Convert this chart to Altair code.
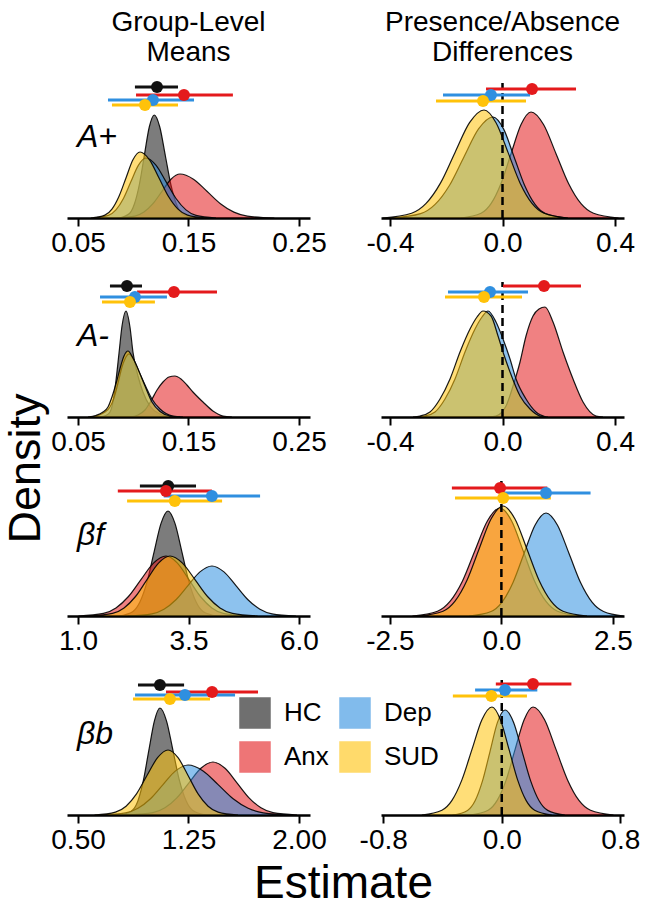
import altair as alt
import pandas as pd

FONT = "Liberation Sans"

GROUPS = ["HC", "Anx", "Dep", "SUD"]            # legend order (2 columns, filled column-wise)
GROUP_COLORS = ["#111111", "#e41a1c", "#2f8fe0", "#ffc20a"]
DRAW_ORDER = ["HC", "Anx", "Dep", "SUD"]
MEAN_INT_GROUPS = ["HC", "Anx", "Dep", "SUD"]
DIFF_INT_GROUPS = ["Anx", "Dep", "SUD"]

COL_TITLES = [["Group-Level", "Means"], ["Presence/Absence", "Differences"]]
ROW_LABELS = ["A+", "A-", "βf", "βb"]

MEAN_DOMAINS = [[0.04, 0.26], [0.04, 0.26], [0.75, 6.25], [0.425, 2.075]]
MEAN_TICKS = [[0.05, 0.15, 0.25], [0.05, 0.15, 0.25], [1.0, 3.5, 6.0], [0.5, 1.25, 2.0]]
MEAN_FMT = [".2f", ".2f", ".1f", ".2f"]
DIFF_DOMAINS = [[-0.432, 0.432], [-0.432, 0.432], [-2.7, 2.75], [-0.815, 0.825]]
DIFF_TICKS = [[-0.4, 0.0, 0.4], [-0.4, 0.0, 0.4], [-2.5, 0.0, 2.5], [-0.8, 0.0, 0.8]]
DIFF_FMT = ".1f"
DENSITY_MAX = 145
ZERO_LINE_TOP = 135

# ---------------- A+ : group-level means ----------------
ap_m_hc_x = [0.0875, 0.0965, 0.101, 0.1055, 0.110, 0.1145, 0.119, 0.124, 0.129, 0.134, 0.139, 0.144, 0.154]
ap_m_hc_d = [0, 4.5, 14, 33.5, 62.5, 91, 103, 91, 62.5, 33.5, 14, 4.5, 0]
ap_m_anx_x = [0.0853, 0.1015, 0.1097, 0.1178, 0.126, 0.1341, 0.1423, 0.1545, 0.1667, 0.1789, 0.1911, 0.2033, 0.2277]
ap_m_anx_d = [0, 1.9, 5.9, 14.3, 26.7, 38.8, 44, 38.8, 26.7, 14.3, 5.9, 1.9, 0]
ap_m_dep_x = [0.0639, 0.0775, 0.0843, 0.0911, 0.0979, 0.1047, 0.1115, 0.1205, 0.1296, 0.1387, 0.1477, 0.1568, 0.1749]
ap_m_dep_d = [0, 2.6, 8.1, 19.5, 36.4, 52.9, 60, 52.9, 36.4, 19.5, 8.1, 2.6, 0]
ap_m_sud_x = [0.0616, 0.0743, 0.0807, 0.087, 0.0934, 0.0997, 0.1061, 0.1147, 0.1233, 0.1319, 0.1405, 0.1491, 0.1663]
ap_m_sud_d = [0, 2.9, 8.9, 21.5, 40, 58.2, 66, 58.2, 40, 21.5, 8.9, 2.9, 0]
ap_m_lo = [0.1015, 0.1025, 0.0771, 0.0807]
ap_m_hi = [0.1405, 0.1902, 0.155, 0.1405]
ap_m_pt = [0.1215, 0.1459, 0.1178, 0.1106]
ap_m_h = [131, 123, 118, 113]

# ---------------- A+ : presence/absence differences ----------------
ap_d_anx_x = [-0.1475, -0.0764, -0.0408, -0.0053, 0.0303, 0.0659, 0.1014, 0.1459, 0.1903, 0.2348, 0.2792, 0.3237, 0.4126]
ap_d_anx_d = [0, 4.7, 14.3, 34.5, 64.3, 93.5, 106, 93.5, 64.3, 34.5, 14.3, 4.7, 0]
ap_d_dep_x = [-0.3942, -0.2912, -0.2397, -0.1882, -0.1367, -0.0852, -0.0337, 0.0037, 0.041, 0.0784, 0.1157, 0.1531, 0.2278]
ap_d_dep_d = [0, 4.4, 13.6, 32.8, 61.3, 89.1, 101, 89.1, 61.3, 32.8, 13.6, 4.4, 0]
ap_d_sud_x = [-0.4262, -0.3232, -0.2717, -0.2202, -0.1687, -0.1172, -0.0657, -0.023, 0.0196, 0.0623, 0.1049, 0.1476, 0.2329]
ap_d_sud_d = [0, 4.8, 14.6, 35.1, 65.6, 95.3, 108, 95.3, 65.6, 35.1, 14.6, 4.8, 0]
ap_d_lo = [-0.0586, -0.2115, -0.2364]
ap_d_hi = [0.2614, 0.098, 0.0836]
ap_d_pt = [0.105, -0.041, -0.0693]
ap_d_h = [129, 123, 117]

# ---------------- A- : group-level means ----------------
am_m_hc_x = [0.0699, 0.0753, 0.0789, 0.0816, 0.0843, 0.0871, 0.0898, 0.0934, 0.097, 0.0997, 0.1043, 0.1088, 0.1151, 0.1242, 0.135]
am_m_hc_d = [0, 1.5, 5, 15, 36, 64, 91, 106, 90, 65, 41, 25, 11, 3, 0]
am_m_anx_x = [0.097, 0.1043, 0.1106, 0.116, 0.1215, 0.1269, 0.1323, 0.1377, 0.1432, 0.1486, 0.154, 0.1631, 0.1721, 0.1812, 0.1893]
am_m_anx_d = [0, 2, 7, 16, 27, 35, 40, 41, 38, 32, 25, 15, 6, 1, 0]
am_m_dep_x = [0.0608, 0.0681, 0.0744, 0.0789, 0.0825, 0.0862, 0.0898, 0.0925, 0.0961, 0.1006, 0.1061, 0.1115, 0.1169, 0.1242, 0.1359, 0.145]
am_m_dep_d = [0, 1.5, 5, 10, 19, 34, 50, 58, 63, 57, 43, 30, 18, 8, 1, 0]
am_m_sud_x = [0.059, 0.0662, 0.0726, 0.0771, 0.0807, 0.0853, 0.0889, 0.0916, 0.0952, 0.0997, 0.1043, 0.1106, 0.1169, 0.1242, 0.1332, 0.1423]
am_m_sud_d = [0, 1.5, 5, 10, 20, 37, 52, 61, 66, 59, 48, 31, 15, 5.5, 1, 0]
am_m_lo = [0.0789, 0.1034, 0.0699, 0.0717]
am_m_hi = [0.1079, 0.1758, 0.1305, 0.1196]
am_m_pt = [0.0943, 0.1368, 0.1015, 0.097]
am_m_h = [131, 125, 120, 115]

# ---------------- A- : presence/absence differences ----------------
am_d_anx_x = [-0.0515, -0.0231, 0.0125, 0.0374, 0.0623, 0.0836, 0.1085, 0.1298, 0.1512, 0.1796, 0.2152, 0.2508, 0.2863, 0.3325, 0.3574]
am_d_anx_d = [0, 1, 11, 31, 55, 81, 101, 108, 110, 95, 65, 38, 15, 1, 0]
am_d_dep_x = [-0.3004, -0.2755, -0.24, -0.2044, -0.1689, -0.1333, -0.0977, -0.0728, -0.0515, -0.0231, 0.0018, 0.0267, 0.0481, 0.0836, 0.1192, 0.1547]
am_d_dep_d = [0, 1, 5, 18, 38, 65, 88, 100, 106, 95, 78, 58, 38, 18, 5, 0]
am_d_sud_x = [-0.3182, -0.2933, -0.2578, -0.2222, -0.1866, -0.1511, -0.1155, -0.0906, -0.0693, -0.0408, -0.0159, 0.0018, 0.0267, 0.0623, 0.0978, 0.1334, 0.1619]
am_d_sud_d = [0, 1, 5, 18, 38, 65, 88, 100, 106, 101, 81, 65, 45, 21, 8, 1, 0]
am_d_lo = [0.0018, -0.1938, -0.2044]
am_d_hi = [0.279, 0.0907, 0.0694]
am_d_pt = [0.1476, -0.0444, -0.0657]
am_d_h = [131, 125, 120]

# ---------------- beta f : group-level means ----------------
bf_m_hc_x = [1.927, 2.244, 2.402, 2.561, 2.719, 2.878, 3.036, 3.194, 3.353, 3.511, 3.670, 3.828, 4.145]
bf_m_hc_d = [0, 4.6, 14.2, 34.1, 63.7, 92.6, 105, 92.6, 63.7, 34.1, 14.2, 4.6, 0]
bf_m_anx_x = [1.009, 1.575, 1.858, 2.141, 2.424, 2.707, 2.990, 3.25, 3.51, 3.77, 4.03, 4.29, 4.81]
bf_m_anx_d = [0, 2.6, 8.1, 19.5, 36.4, 52.9, 60, 52.9, 36.4, 19.5, 8.1, 2.6, 0]
bf_m_dep_x = [2.131, 2.673, 2.945, 3.216, 3.488, 3.759, 4.031, 4.303, 4.574, 4.846, 5.117, 5.389, 5.931]
bf_m_dep_d = [0, 2.2, 6.8, 16.3, 30.4, 44.1, 50, 44.1, 30.4, 16.3, 6.8, 2.2, 0]
bf_m_sud_x = [1.261, 1.781, 2.041, 2.301, 2.561, 2.821, 3.081, 3.364, 3.647, 3.930, 4.213, 4.496, 5.062]
bf_m_sud_d = [0, 2.6, 8.1, 19.5, 36.4, 52.9, 60, 52.9, 36.4, 19.5, 8.1, 2.6, 0]
bf_m_lo = [2.40, 1.90, 2.94, 2.11]
bf_m_hi = [3.67, 4.03, 5.12, 4.26]
bf_m_pt = [3.04, 2.99, 4.03, 3.19]
bf_m_h = [130, 125, 120, 115]

# ---------------- beta f : presence/absence differences ----------------
bf_d_anx_x = [-1.994, -1.433, -1.153, -0.872, -0.592, -0.311, -0.031, 0.227, 0.485, 0.743, 1.001, 1.259, 1.775]
bf_d_anx_d = [0, 4.8, 14.6, 35.1, 65.6, 95.3, 108, 95.3, 65.6, 35.1, 14.6, 4.8, 0]
bf_d_dep_x = [-0.725, -0.232, 0.015, 0.261, 0.508, 0.754, 1.001, 1.259, 1.517, 1.775, 2.033, 2.291, 2.74]
bf_d_dep_d = [0, 4.5, 13.9, 33.5, 62.5, 90.8, 103, 90.8, 62.5, 33.5, 13.9, 4.5, 0]
bf_d_sud_x = [-1.847, -1.309, -1.04, -0.771, -0.502, -0.232, 0.036, 0.305, 0.575, 0.844, 1.113, 1.382, 1.920]
bf_d_sud_d = [0, 4.8, 14.9, 35.8, 66.8, 97, 110, 97, 66.8, 35.8, 14.9, 4.8, 0]
bf_d_lo = [-1.11, 0.0, -1.04]
bf_d_hi = [1.03, 2.0, 1.11]
bf_d_pt = [-0.03, 1.0, 0.04]
bf_d_h = [128, 123, 118]

# ---------------- beta b : group-level means ----------------
bb_m_hc_x = [0.795, 0.869, 0.907, 0.944, 0.981, 1.019, 1.056, 1.1, 1.144, 1.188, 1.233, 1.277, 1.365]
bb_m_hc_d = [0, 4.7, 14.4, 34.8, 64.9, 94.4, 107, 94.4, 64.9, 34.8, 14.4, 4.7, 0]
bb_m_anx_x = [0.845, 1.008, 1.09, 1.171, 1.253, 1.334, 1.416, 1.498, 1.579, 1.661, 1.742, 1.824, 1.987]
bb_m_anx_d = [0, 2.3, 7.2, 17.2, 32.2, 46.7, 53, 46.7, 32.2, 17.2, 7.2, 2.3, 0]
bb_m_dep_x = [0.652, 0.822, 0.907, 0.992, 1.077, 1.162, 1.247, 1.349, 1.451, 1.553, 1.655, 1.757, 1.961]
bb_m_dep_d = [0, 2.2, 6.8, 16.3, 30.4, 44.1, 50, 44.1, 30.4, 16.3, 6.8, 2.2, 0]
bb_m_sud_x = [0.612, 0.754, 0.826, 0.897, 0.968, 1.04, 1.111, 1.179, 1.247, 1.315, 1.383, 1.451, 1.586]
bb_m_sud_d = [0, 2.9, 8.8, 21.1, 39.5, 57.3, 65, 57.3, 39.5, 21.1, 8.8, 2.9, 0]
bb_m_lo = [0.907, 1.097, 0.887, 0.873]
bb_m_hi = [1.22, 1.722, 1.566, 1.396]
bb_m_pt = [1.056, 1.41, 1.226, 1.124]
bb_m_h = [130, 123, 120, 116]

# ---------------- beta b : presence/absence differences ----------------
bb_d_anx_x = [-0.213, -0.092, -0.031, 0.03, 0.09, 0.151, 0.211, 0.289, 0.366, 0.444, 0.521, 0.599, 0.754]
bb_d_anx_d = [0, 4.8, 14.6, 35.1, 65.6, 95.3, 108, 95.3, 65.6, 35.1, 14.6, 4.8, 0]
bb_d_dep_x = [-0.332, -0.231, -0.18, -0.13, -0.079, -0.029, 0.022, 0.08, 0.137, 0.195, 0.252, 0.31, 0.425]
bb_d_dep_d = [0, 4.6, 14.2, 34.1, 63.7, 92.6, 105, 92.6, 63.7, 34.1, 14.2, 4.6, 0]
bb_d_sud_x = [-0.539, -0.404, -0.336, -0.269, -0.201, -0.134, -0.066, -0.009, 0.049, 0.107, 0.164, 0.222, 0.337]
bb_d_sud_d = [0, 4.8, 14.6, 35.1, 65.6, 95.3, 108, 95.3, 65.6, 35.1, 14.6, 4.8, 0]
bb_d_lo = [-0.04, -0.18, -0.33]
bb_d_hi = [0.47, 0.24, 0.17]
bb_d_pt = [0.211, 0.022, -0.07]
bb_d_h = [131, 125, 119]

# ---------------------------------------------------------------------------
PANEL_W = 243
PANEL_H = 145

legend = alt.Legend(orient="none", legendX=172, legendY=624, columns=2,
                    direction="vertical",
                    title=None, symbolType="square", symbolSize=900,
                    symbolStrokeColor="black", symbolStrokeWidth=1.5,
                    symbolOpacity=0.6, labelFontSize=26, labelFont=FONT,
                    labelColor="black", labelOffset=13, columnPadding=8,
                    rowPadding=8, padding=0)


def cscale():
    return alt.Scale(domain=GROUPS, range=GROUP_COLORS)


def make_panel(curves, lo, hi, pt, hts, int_groups, domain, ticks, fmt,
               zero_line=False, label=None, title=None, x_title=None,
               y_title=None):
    label_expr = ("datum.value < 0 ? '-' + format(-datum.value, '%s') : "
                  "format(datum.value, '%s')" % (fmt, fmt))
    ax_kw = dict(values=ticks, labelExpr=label_expr, grid=False,
                 domainColor="black", domainWidth=2.5, tickColor="black",
                 tickWidth=2, tickSize=8, labelFontSize=28, labelColor="black",
                 labelPadding=3, labelFlush=False, labelOverlap=False,
                 labelFont=FONT)
    if x_title:
        xaxis = alt.Axis(title=x_title, titleFontSize=46, titleFontWeight="normal",
                         titleX=276, titleY=82, titleBaseline="alphabetic",
                         titleColor="black", titleFont=FONT, **ax_kw)
    else:
        xaxis = alt.Axis(title=None, **ax_kw)
    if y_title:
        yaxis = alt.Axis(title=y_title, labels=False, ticks=False, domain=False,
                         grid=False, titleFontSize=45, titleFontWeight="normal",
                         titleX=-19, titleY=196, titleColor="black",
                         titleFont=FONT)
    else:
        yaxis = None
    xscale = alt.Scale(domain=domain, nice=False, zero=False)
    yscale = alt.Scale(domain=[0, DENSITY_MAX], nice=False)

    layers = []
    for g in DRAW_ORDER:
        if g not in curves:
            continue
        xs, ds = curves[g]
        df = pd.DataFrame({"x": xs, "d": ds, "group": [g] * len(xs)})
        layers.append(
            alt.Chart(df).mark_area(interpolate="monotone", fillOpacity=0.55,
                                    stroke="black", strokeWidth=1.2,
                                    strokeOpacity=0.9)
            .encode(x=alt.X("x:Q", scale=xscale, axis=xaxis),
                    y=alt.Y("d:Q", scale=yscale, axis=yaxis, stack=None),
                    color=alt.Color("group:N", scale=cscale(), legend=legend))
        )
    if zero_line:
        zdf = pd.DataFrame({"x": [0.0], "y0": [0.0], "y1": [ZERO_LINE_TOP]})
        layers.append(
            alt.Chart(zdf).mark_rule(color="black", strokeWidth=2.5,
                                     strokeDash=[8, 5])
            .encode(x=alt.X("x:Q", scale=xscale, axis=xaxis),
                    y=alt.Y("y0:Q", scale=yscale, axis=yaxis),
                    y2="y1:Q")
        )
    idf = pd.DataFrame({"group": int_groups, "lo": lo, "hi": hi, "pt": pt, "h": hts})
    layers.append(
        alt.Chart(idf).mark_rule(strokeWidth=3)
        .encode(x=alt.X("lo:Q", scale=xscale, axis=xaxis), x2="hi:Q",
                y=alt.Y("h:Q", scale=yscale, axis=yaxis),
                stroke=alt.Stroke("group:N", scale=cscale(), legend=None))
    )
    layers.append(
        alt.Chart(idf).mark_point(size=144, opacity=1, filled=True, shape="circle",
                                  strokeWidth=0)
        .encode(x=alt.X("pt:Q", scale=xscale, axis=xaxis),
                y=alt.Y("h:Q", scale=yscale, axis=yaxis),
                fill=alt.Fill("group:N", scale=cscale(), legend=None))
    )
    if label:
        ldf = pd.DataFrame({"t": [label]})
        layers.append(
            alt.Chart(ldf).mark_text(align="left", baseline="alphabetic",
                                     fontSize=32, fontStyle="italic", font=FONT,
                                     color="black")
            .encode(text="t:N", x=alt.value(10), y=alt.value(74))
        )
    ch = alt.layer(*layers).properties(
        width=PANEL_W, height=PANEL_H,
        view=alt.ViewBackground(stroke="transparent", strokeWidth=0))
    if title:
        ch = ch.properties(title=alt.Title(title, fontSize=28, fontWeight="normal",
                                           font=FONT, anchor="middle", offset=6,
                                           lineHeight=30, color="black"))
    return ch


mean_panels = [
    ({"HC": (ap_m_hc_x, ap_m_hc_d), "Anx": (ap_m_anx_x, ap_m_anx_d),
      "Dep": (ap_m_dep_x, ap_m_dep_d), "SUD": (ap_m_sud_x, ap_m_sud_d)},
     ap_m_lo, ap_m_hi, ap_m_pt, ap_m_h),
    ({"HC": (am_m_hc_x, am_m_hc_d), "Anx": (am_m_anx_x, am_m_anx_d),
      "Dep": (am_m_dep_x, am_m_dep_d), "SUD": (am_m_sud_x, am_m_sud_d)},
     am_m_lo, am_m_hi, am_m_pt, am_m_h),
    ({"HC": (bf_m_hc_x, bf_m_hc_d), "Anx": (bf_m_anx_x, bf_m_anx_d),
      "Dep": (bf_m_dep_x, bf_m_dep_d), "SUD": (bf_m_sud_x, bf_m_sud_d)},
     bf_m_lo, bf_m_hi, bf_m_pt, bf_m_h),
    ({"HC": (bb_m_hc_x, bb_m_hc_d), "Anx": (bb_m_anx_x, bb_m_anx_d),
      "Dep": (bb_m_dep_x, bb_m_dep_d), "SUD": (bb_m_sud_x, bb_m_sud_d)},
     bb_m_lo, bb_m_hi, bb_m_pt, bb_m_h),
]
diff_panels = [
    ({"Anx": (ap_d_anx_x, ap_d_anx_d), "Dep": (ap_d_dep_x, ap_d_dep_d),
      "SUD": (ap_d_sud_x, ap_d_sud_d)}, ap_d_lo, ap_d_hi, ap_d_pt, ap_d_h),
    ({"Anx": (am_d_anx_x, am_d_anx_d), "Dep": (am_d_dep_x, am_d_dep_d),
      "SUD": (am_d_sud_x, am_d_sud_d)}, am_d_lo, am_d_hi, am_d_pt, am_d_h),
    ({"Anx": (bf_d_anx_x, bf_d_anx_d), "Dep": (bf_d_dep_x, bf_d_dep_d),
      "SUD": (bf_d_sud_x, bf_d_sud_d)}, bf_d_lo, bf_d_hi, bf_d_pt, bf_d_h),
    ({"Anx": (bb_d_anx_x, bb_d_anx_d), "Dep": (bb_d_dep_x, bb_d_dep_d),
      "SUD": (bb_d_sud_x, bb_d_sud_d)}, bb_d_lo, bb_d_hi, bb_d_pt, bb_d_h),
]

panels = []
for r in range(4):
    curves, lo, hi, pt, hts = mean_panels[r]
    panels.append(make_panel(
        curves, lo, hi, pt, hts, MEAN_INT_GROUPS, MEAN_DOMAINS[r], MEAN_TICKS[r],
        MEAN_FMT[r], zero_line=False, label=ROW_LABELS[r],
        title=COL_TITLES[0] if r == 0 else None,
        x_title="Estimate" if r == 3 else None,
        y_title="Density" if r == 1 else None))
    curves, lo, hi, pt, hts = diff_panels[r]
    panels.append(make_panel(
        curves, lo, hi, pt, hts, DIFF_INT_GROUPS, DIFF_DOMAINS[r], DIFF_TICKS[r],
        DIFF_FMT, zero_line=True,
        title=COL_TITLES[1] if r == 0 else None))

chart = (
    alt.concat(*panels, columns=2,
               spacing=alt.RowColnumber(row=54, column=71), bounds="flush")
    .properties(padding={"left": 3, "top": 9, "right": 4, "bottom": 2},
                background="white")
    .configure(font=FONT)
    .configure_view(strokeWidth=0, stroke="transparent")
)

chart.save("out.html", embed_options={"renderer": "svg", "actions": False})
